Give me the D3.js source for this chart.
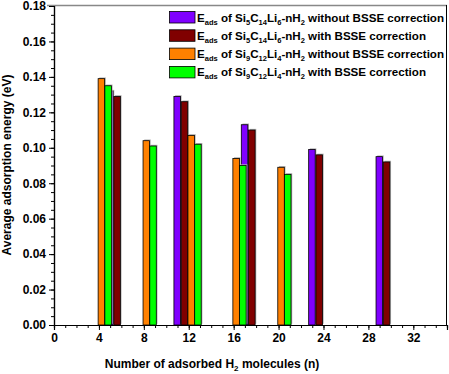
<!DOCTYPE html>
<html>
<head>
<meta charset="utf-8">
<script src="https://cdn.jsdelivr.net/npm/d3@7"></script>
<style>
body { margin: 0; background: #fff; }
text { font-family: "Liberation Sans", Arial, sans-serif; font-weight: bold; }
</style>
</head>
<body>
<div id="chart-area"></div>
<script>
// data
var nSi5 = [5, 11, 17, 23, 29];
var si5NoBsse = [0.132, 0.129, 0.113, 0.099, 0.095];
var si5Bsse = [0.129, 0.126, 0.110, 0.096, 0.092];
var nSi9 = [4, 8, 12, 16, 20];
var si9NoBsse = [0.139, 0.104, 0.107, 0.094, 0.089];
var si9Bsse = [0.135, 0.101, 0.102, 0.090, 0.085];
var xTicks = [0, 4, 8, 12, 16, 20, 24, 28, 32];
var yTicks = [0, 0.02, 0.04, 0.06, 0.08, 0.10, 0.12, 0.14, 0.16, 0.18];

var series = [
  {n: nSi5, v: si5NoBsse, off: -0.03, color: '#8000ff', si: '5', c: '14', li: '6', tail: ' without BSSE correction'},
  {n: nSi5, v: si5Bsse, off: 0.62, color: '#800000', si: '5', c: '14', li: '6', tail: ' with BSSE correction'},
  {n: nSi9, v: si9NoBsse, off: 0.22, color: '#ff8000', si: '9', c: '12', li: '4', tail: ' without BSSE correction'},
  {n: nSi9, v: si9Bsse, off: 0.82, color: '#00ff00', si: '9', c: '12', li: '4', tail: ' with BSSE correction'}
];

var svg = d3.select("#chart-area").append("svg")
    .attr("width", 449)
    .attr("height", 374);

var x = d3.scaleLinear().domain([0, 35]).range([54, 447]);
var y = d3.scaleLinear().domain([0, 0.18]).range([325, 6]);
var bw = 0.58;

// bars with a faint drop shadow
series.forEach(function(s) {
  var g = svg.append('g');
  s.n.forEach(function(n, i) {
    var x0 = x(n + s.off - bw / 2), x1 = x(n + s.off + bw / 2);
    g.append('rect')
      .attr('x', x0 + 1.2)
      .attr('y', y(s.v[i]) - 1.2)
      .attr('width', x1 - x0)
      .attr('height', y(0) - y(s.v[i]))
      .attr('fill', '#b0b0b0');
    g.append('rect')
      .attr('x', x0)
      .attr('y', y(s.v[i]))
      .attr('width', x1 - x0)
      .attr('height', y(0) - y(s.v[i]))
      .attr('fill', s.color)
      .attr('stroke', '#000')
      .attr('stroke-width', 0.8);
  });
});

// frame
svg.append('line')
  .attr('x1', 47).attr('x2', 447).attr('y1', 5.5).attr('y2', 5.5)
  .attr('stroke', '#888').attr('stroke-width', 1.5);
svg.append('line')
  .attr('x1', 446.5).attr('x2', 446.5).attr('y1', 5).attr('y2', 325)
  .attr('stroke', '#000').attr('stroke-width', 1);

// axes
svg.append('g').attr('transform', 'translate(0,325)')
  .call(d3.axisBottom(x).tickValues(xTicks).tickFormat(d3.format('d')).tickSize(5).tickPadding(3));
svg.append('g').attr('transform', 'translate(0,325)')
  .call(d3.axisBottom(x).tickValues(d3.range(0, 36)).tickFormat('').tickSize(3));
svg.append('g').attr('transform', 'translate(54,0)')
  .call(d3.axisLeft(y).tickValues(yTicks).tickFormat(d3.format('.2f')).tickSize(5).tickPadding(3));
svg.append('g').attr('transform', 'translate(54,0)')
  .call(d3.axisLeft(y).tickValues(d3.range(0, 0.1801, 0.005)).tickFormat('').tickSize(3));

svg.selectAll('.domain').attr('stroke', '#000').attr('stroke-width', 1.2);
svg.selectAll('.tick line').attr('stroke', '#000');
svg.selectAll('.tick text').attr('font-size', 12).attr('fill', '#000')
  .style('font-family', '"Liberation Sans", Arial, sans-serif').style('font-weight', 'bold');

// axis titles
var xt = svg.append('text').attr('x', 212).attr('y', 368)
  .attr('text-anchor', 'middle').attr('font-size', 12);
xt.append('tspan').text('Number of adsorbed H');
xt.append('tspan').attr('font-size', 8).attr('dy', 3).text('2');
xt.append('tspan').attr('dy', -3).text(' molecules (n)');

svg.append('text')
  .attr('transform', 'translate(11,165) rotate(-90)')
  .attr('text-anchor', 'middle').attr('font-size', 12)
  .text('Average adsorption energy (eV)');

// legend
series.forEach(function(s, i) {
  var ly = 11.5 + i * 18.3;
  svg.append('rect')
    .attr('x', 169.5).attr('y', ly).attr('width', 25.5).attr('height', 11.5)
    .attr('fill', s.color).attr('stroke', '#000').attr('stroke-width', 0.8);
  var t = svg.append('text').attr('x', 197).attr('y', ly + 10).attr('font-size', 11.6);
  var parts = [['E', 'ads'], [' of Si', s.si], ['C', s.c], ['Li', s.li], ['-nH', '2']];
  parts.forEach(function(p, k) {
    t.append('tspan').attr('dy', k === 0 ? 0 : -3).text(p[0]);
    t.append('tspan').attr('font-size', 7.5).attr('dy', 3).text(p[1]);
  });
  t.append('tspan').attr('dy', -3).text(s.tail);
});
</script>
</body>
</html>
